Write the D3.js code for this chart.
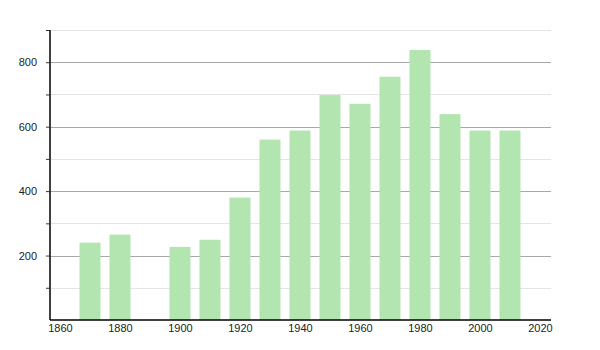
<!DOCTYPE html>
<html>
<head>
<meta charset="utf-8">
<script src="https://cdn.jsdelivr.net/npm/d3@7"></script>
<style>
  body { margin: 0; background: #fff; }
  text { font-family: "Liberation Sans", Arial, sans-serif; }
</style>
</head>
<body>
<svg id="chart" width="600" height="350"></svg>
<script>
// population by census year
var years = [1870, 1880, 1900, 1910, 1920, 1930, 1940, 1950, 1960, 1970, 1980, 1990, 2000, 2010];
var values = [240, 265, 227, 249, 380, 560, 588, 698, 671, 755, 838, 639, 588, 588];
var xTicks = [1860, 1880, 1900, 1920, 1940, 1960, 1980, 2000, 2020];
var yMajor = [200, 400, 600, 800];
var yMinor = [100, 300, 500, 700, 900];

var svg = d3.select("#chart");
// note: "top" is taken by window.top, so plot edges get their own names
var plotLeft = 50, plotRight = 551, plotTop = 30, plotBottom = 320;

var x = d3.scaleLinear().domain([1856.67, 2023.67]).range([plotLeft, plotRight]);
var y = d3.scaleLinear().domain([0, 900]).range([plotBottom, plotTop]);

//grid lines, light ones first
svg.selectAll(".minor").data(yMinor).enter().append("line")
	.attr("x1", plotLeft).attr("x2", plotRight)
	.attr("y1", function(d){ return Math.round(y(d)) + 0.5; })
	.attr("y2", function(d){ return Math.round(y(d)) + 0.5; })
	.attr("stroke", "#e4e4e4")
	.attr("stroke-width", 1);

svg.selectAll(".major").data(yMajor).enter().append("line")
	.attr("x1", plotLeft).attr("x2", plotRight)
	.attr("y1", function(d){ return Math.round(y(d)) + 0.5; })
	.attr("y2", function(d){ return Math.round(y(d)) + 0.5; })
	.attr("stroke", "#a8a8a8")
	.attr("stroke-width", 1);

// bars are 7 years wide
var barW = x(1877) - x(1870);
svg.selectAll(".bar").data(years).enter().append("rect")
	.attr("x", function(d){ return x(d) - barW / 2; })
	.attr("y", function(d, i){ return y(values[i]); })
	.attr("width", barW)
	.attr("height", function(d, i){ return plotBottom - y(values[i]); })
	.style("fill", "#b3e5b1");

// y axis
var yAxis = d3.axisLeft(y)
	.tickValues(yMajor.concat(yMinor))
	.tickSize(4)
	.tickFormat(function(d){ return yMajor.indexOf(d) >= 0 ? d : ""; });
var gy = svg.append("g").attr("transform", "translate(" + plotLeft + ",0)").call(yAxis);
gy.select(".domain").attr("d", "M0," + plotTop + "V" + plotBottom).attr("stroke", "#000").attr("stroke-width", 1.5);
gy.selectAll(".tick line").attr("stroke", "#333");
gy.selectAll("text").attr("x", -13).style("font-size", "11px").attr("fill", "#222");

// x axis
var xAxis = d3.axisBottom(x).tickValues(xTicks).tickSize(0).tickFormat(d3.format("d"));
var gx = svg.append("g").attr("transform", "translate(0," + plotBottom + ")").call(xAxis);
gx.select(".domain").attr("d", "M" + plotLeft + ",0H" + plotRight).attr("stroke", "#000").attr("stroke-width", 1.5);
gx.selectAll("text").attr("y", 4).style("font-size", "11px").attr("fill", "#222");
</script>
</body>
</html>
